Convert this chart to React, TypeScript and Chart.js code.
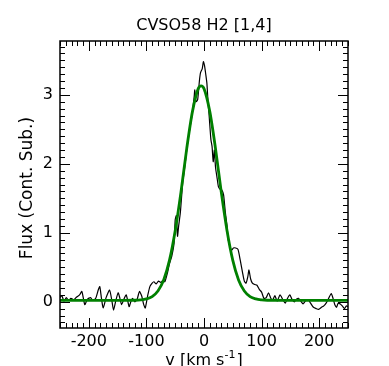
import React, { useEffect, useRef } from 'react';
import { Chart, registerables } from 'chart.js';

Chart.register(...registerables);

// ---- Data ----
const titleText = 'CVSO58 H2 [1,4]';
const yLabelText = 'Flux (Cont. Sub.)';
const xLabelMain = 'v [km s';
const xLabelSup = '-1';
const xLabelEnd = ']';

const xMin = -250;
const xMax = 250;
const yMin = -0.38;
const yMax = 3.78;
const xTickValues = [-200, -100, 0, 100, 200];
const yTickValues = [0, 1, 2, 3];

// observed spectrum (black)
const specVelocity = [
  -250, -247, -243, -239, -235, -231, -226, -221, -216, -212, -207, -202, -197, -193, -188, -184,
  -181, -178, -175, -170, -164, -160, -157, -153, -149, -146, -143, -139, -135, -130, -127, -124,
  -120, -116, -112, -108, -105, -102, -98, -94, -90, -87, -83, -79, -75, -71, -68, -64,
  -60, -56, -52, -50, -48, -46, -44, -41, -37, -33, -30, -27, -24, -20, -17, -16,
  -14, -11, -8, -6, -3, -1, 1, 3, 5, 7, 9, 12, 14, 16, 18, 20,
  23, 25, 28, 31, 34, 37, 40, 42, 45, 48, 51, 55, 59, 63, 67, 70,
  73, 76, 78, 81, 84, 88, 92, 96, 100, 104, 108, 112, 116, 119, 123, 127,
  132, 137, 141, 145, 149, 153, 157, 161, 164, 168, 172, 176, 181, 185, 190, 195,
  199, 204, 208, 212, 217, 221, 224, 227, 230, 233, 236, 240, 244, 247, 250,
];
const specFlux = [
  0.06, 0.09, 0.01, 0.06, 0.02, 0.05, 0.03, 0.07, 0.10, 0.15, -0.04, 0.04, 0.06, 0.02, 0.05, 0.16,
  0.22, 0.05, -0.09, 0.06, 0.17, 0.02, -0.12, 0.02, 0.13, 0.05, -0.04, 0.04, 0.10, -0.07, 0.0, 0.05,
  0.0, 0.04, 0.15, 0.08, -0.03, -0.09, 0.08, 0.22, 0.27, 0.29, 0.26, 0.30, 0.28, 0.31, 0.29, 0.40,
  0.55, 0.66, 0.85, 1.19, 1.25, 0.95, 1.10, 1.30, 1.72, 1.98, 2.20, 2.38, 2.54, 2.75, 2.98, 3.07,
  2.90, 2.93, 3.20, 3.32, 3.38, 3.48, 3.42, 3.30, 3.17, 2.90, 2.69, 2.35, 2.25, 2.03, 2.20, 1.95,
  1.78, 1.67, 1.63, 1.62, 1.55, 1.30, 1.10, 0.90, 0.80, 0.75, 0.78, 0.78, 0.76, 0.60, 0.42, 0.30,
  0.27, 0.36, 0.46, 0.33, 0.27, 0.25, 0.24, 0.18, 0.14, 0.05, 0.06, 0.13, 0.05, 0.02, 0.09, 0.01,
  0.10, 0.03, -0.02, 0.05, 0.10, 0.03, 0.0, 0.04, 0.05, 0.01, -0.03, 0.01, 0.03, -0.02, -0.08, -0.10,
  -0.11, -0.08, -0.06, -0.02, 0.06, 0.12, 0.05, -0.04, -0.08, -0.02, -0.03, -0.06, -0.10, -0.06, -0.07,
];

// fitted profile (green)
const fitVelocity = [
  -250, -150, -120, -110, -100, -90, -80, -70, -60, -50, -40, -30, -20, -10, -5,
  0, 10, 20, 30, 40, 50, 60, 70, 80, 90, 100, 110, 150, 250,
];
const fitFlux = [
  0.02, 0.02, 0.022, 0.027, 0.041, 0.076, 0.157, 0.317, 0.60, 1.03, 1.59, 2.22, 2.76, 3.09, 3.13,
  3.09, 2.76, 2.22, 1.59, 1.03, 0.60, 0.317, 0.157, 0.076, 0.041, 0.027, 0.022, 0.02, 0.02,
];

const FONT = "'DejaVu Sans', sans-serif";

const framePlugin = {
  id: 'framePlugin',
  afterDraw(chart: any) {
    const { ctx, chartArea } = chart;
    const xs = chart.scales.x;
    const ys = chart.scales.y;
    const { left, right, top, bottom } = chartArea;
    ctx.save();
    ctx.strokeStyle = '#000';
    ctx.lineWidth = 1;
    ctx.beginPath();
    for (let i = Math.ceil(xMin / 10); i <= Math.floor(xMax / 10); i++) {
      const v = i * 10;
      const len = v % 100 === 0 ? 10 : 5;
      const px = Math.round(xs.getPixelForValue(v)) + 0.5;
      ctx.moveTo(px, bottom);
      ctx.lineTo(px, bottom - len);
      ctx.moveTo(px, top);
      ctx.lineTo(px, top + len);
    }
    for (let i = Math.ceil(yMin * 10); i <= Math.floor(yMax * 10); i++) {
      const v = i / 10;
      const len = i % 10 === 0 ? 10 : 5;
      const py = Math.round(ys.getPixelForValue(v)) + 0.5;
      ctx.moveTo(left, py);
      ctx.lineTo(left + len, py);
      ctx.moveTo(right, py);
      ctx.lineTo(right - len, py);
    }
    ctx.stroke();
    ctx.lineWidth = 1.5;
    ctx.strokeRect(left, top, right - left, bottom - top);

    // title
    ctx.fillStyle = '#000';
    ctx.font = `16px ${FONT}`;
    ctx.textAlign = 'center';
    ctx.textBaseline = 'alphabetic';
    const cx = (left + right) / 2;
    ctx.fillText(titleText, cx, 30);

    // x label with superscript
    ctx.textAlign = 'left';
    ctx.font = `16px ${FONT}`;
    const w1 = ctx.measureText(xLabelMain).width;
    const w3 = ctx.measureText(xLabelEnd).width;
    ctx.font = `11px ${FONT}`;
    const w2 = ctx.measureText(xLabelSup).width;
    const total = w1 + w2 + w3 + 1;
    const x0 = cx - total / 2;
    const base = 365;
    ctx.font = `16px ${FONT}`;
    ctx.fillText(xLabelMain, x0, base);
    ctx.font = `11px ${FONT}`;
    ctx.fillText(xLabelSup, x0 + w1, base - 7);
    ctx.font = `16px ${FONT}`;
    ctx.fillText(xLabelEnd, x0 + w1 + w2 + 1, base);

    // y label
    ctx.save();
    ctx.font = `17px ${FONT}`;
    ctx.translate(32, 188);
    ctx.rotate(-Math.PI / 2);
    ctx.textAlign = 'center';
    ctx.fillText(yLabelText, 0, 0);
    ctx.restore();
    ctx.restore();
  },
};

export default function App() {
  const canvasRef = useRef<HTMLCanvasElement | null>(null);

  useEffect(() => {
    document.body.style.margin = '0';
    const canvas = canvasRef.current;
    if (!canvas) return;
    Chart.defaults.color = '#000';
    const chart = new Chart(canvas, {
      type: 'line',
      data: {
        datasets: [
          {
            label: 'fit',
            data: fitVelocity.map((v, i) => ({ x: v, y: fitFlux[i] })),
            borderColor: '#008000',
            borderWidth: 2.8,
            pointRadius: 0,
            cubicInterpolationMode: 'monotone',
            fill: false,
          },
          {
            label: 'spectrum',
            data: specVelocity.map((v, i) => ({ x: v, y: specFlux[i] })),
            borderColor: '#000',
            borderWidth: 1.2,
            pointRadius: 0,
            tension: 0.2,
            fill: false,
          },
        ],
      },
      options: {
        animation: false,
        responsive: false,
        devicePixelRatio: 1,
        layout: { padding: { left: 0, right: 41, top: 41, bottom: 0 } },
        plugins: {
          legend: { display: false },
          tooltip: { enabled: false },
          title: { display: false },
        },
        scales: {
          x: {
            type: 'linear',
            min: xMin,
            max: xMax,
            grid: { display: false, drawTicks: false },
            border: { display: false },
            afterFit: (s: any) => {
              s.height = 38;
            },
            afterBuildTicks: (s: any) => {
              s.ticks = xTickValues.map((v) => ({ value: v }));
            },
            ticks: {
              font: { family: FONT, size: 16 },
              color: '#000',
              padding: 4,
              maxRotation: 0,
              autoSkip: false,
              callback: (v: any) => String(v),
            },
          },
          y: {
            type: 'linear',
            min: yMin,
            max: yMax,
            grid: { display: false, drawTicks: false },
            border: { display: false },
            afterFit: (s: any) => {
              s.width = 60;
            },
            afterBuildTicks: (s: any) => {
              s.ticks = yTickValues.map((v) => ({ value: v }));
            },
            ticks: {
              font: { family: FONT, size: 16 },
              color: '#000',
              padding: 7,
              autoSkip: false,
              callback: (v: any) => String(v),
            },
          },
        },
      },
      plugins: [framePlugin],
    });
    return () => chart.destroy();
  }, []);

  return (
    <div style={{ position: 'absolute', left: 0, top: 0, width: 389, height: 366 }}>
      <canvas ref={canvasRef} width={389} height={366} style={{ display: 'block' }} />
    </div>
  );
}
